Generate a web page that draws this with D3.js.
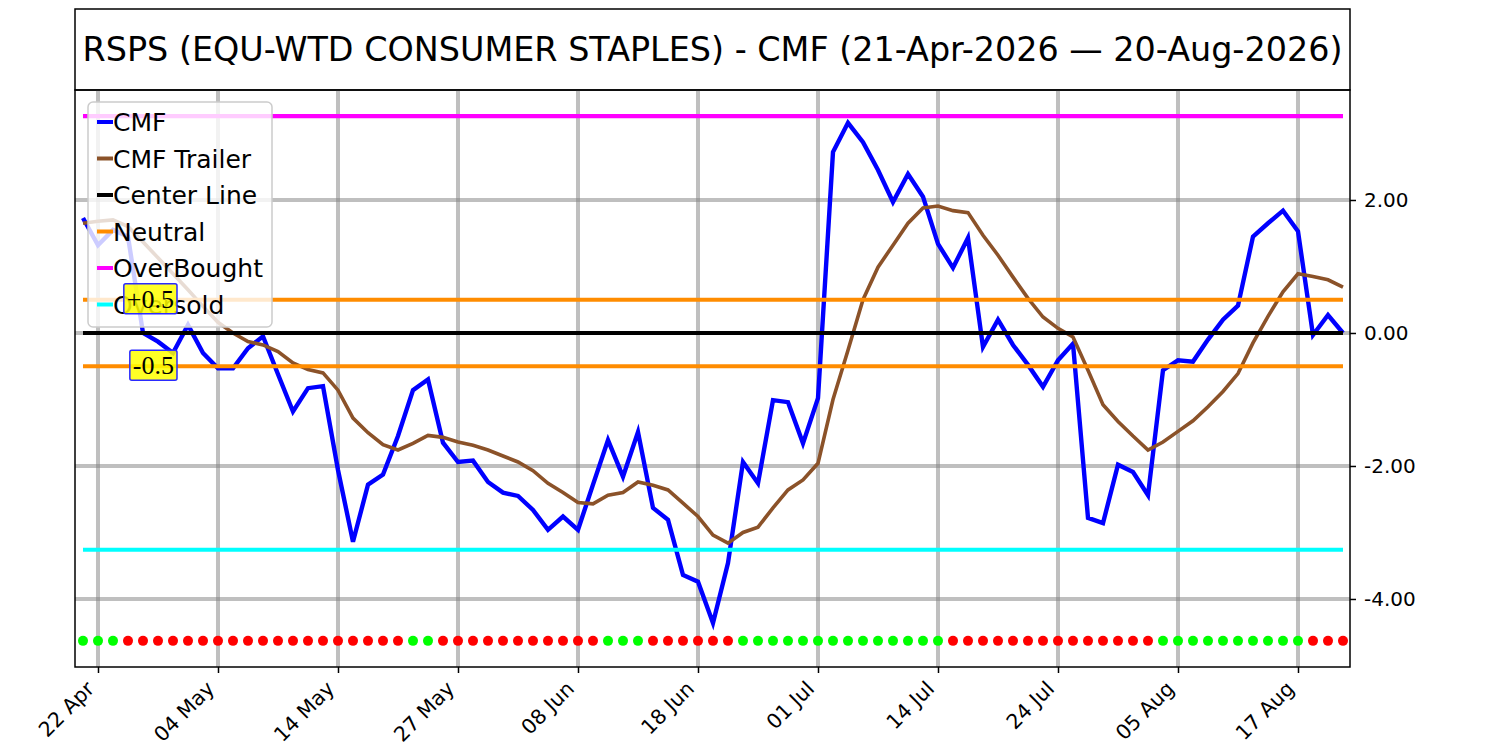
<!DOCTYPE html>
<html>
<head>
<meta charset="utf-8">
<script src="https://cdn.jsdelivr.net/npm/d3@7"></script>
<style>
  body { margin: 0; background: #fff; }
  svg { display: block; font-family: "DejaVu Sans", sans-serif; }
</style>
</head>
<body>
<div id="chart"></div>
<script>
// CMF chart: RSPS, one point per trading day (index based x axis)
const title = "RSPS (EQU-WTD CONSUMER STAPLES) - CMF (21-Apr-2026 \u2014 20-Aug-2026)";

const cmf = [
  1.73, 1.32, 1.55, 1.45, 0.0, -0.13, -0.3, 0.12, -0.3, -0.53,
  -0.53, -0.23, -0.05, -0.62, -1.18, -0.83, -0.8, -2.06, -3.14, -2.28,
  -2.13, -1.55, -0.86, -0.7, -1.65, -1.94, -1.92, -2.24, -2.4, -2.45,
  -2.66, -2.96, -2.76, -2.96, -2.28, -1.61, -2.16, -1.49, -2.63, -2.81,
  -3.64, -3.74, -4.36, -3.46, -1.94, -2.26, -1.01, -1.04, -1.66, -0.98,
  2.72, 3.16, 2.87, 2.45, 1.97, 2.39, 2.05, 1.34, 0.98, 1.43,
  -0.21, 0.2, -0.18, -0.48, -0.81, -0.41, -0.16, -2.78, -2.86, -1.98,
  -2.09, -2.44, -0.56, -0.41, -0.43, -0.1, 0.2, 0.41, 1.45, 1.65,
  1.84, 1.53, -0.03, 0.27, 0.0
];

const trailer = [
  1.65, 1.68, 1.7, 1.6, 1.37, 1.13, 0.89, 0.65, 0.4, 0.16,
  0.0, -0.13, -0.18, -0.28, -0.45, -0.55, -0.6, -0.86, -1.28, -1.5,
  -1.68, -1.76, -1.66, -1.54, -1.57, -1.64, -1.69, -1.76, -1.85, -1.94,
  -2.07, -2.26, -2.4, -2.55, -2.57, -2.44, -2.4, -2.24, -2.29, -2.36,
  -2.56, -2.76, -3.04, -3.16, -3.0, -2.92, -2.63, -2.36, -2.21, -1.96,
  -1.0, -0.26, 0.5, 0.99, 1.32, 1.65, 1.88, 1.91, 1.84, 1.81,
  1.47, 1.17, 0.84, 0.52, 0.24, 0.07, -0.06, -0.56, -1.08, -1.33,
  -1.55, -1.76, -1.64, -1.48, -1.32, -1.11, -0.88, -0.61, -0.15, 0.25,
  0.62, 0.89, 0.85, 0.8, 0.69
];

// signal dots along the bottom: G = green, R = red
const signals = ("GGG" + "RRRRRRRRRRRRRRRRRRR" + "GG" + "RRRRRRRRRRR" + "GGG" +
  "RRRRRR" + "GGGGGGGGGGGGGG" + "RRRRRRRRRRRRRR" + "GGGGGGGGGG" + "RRR").split("");

const tickIndex = [1, 9, 17, 25, 33, 41, 49, 57, 65, 73, 81];
const tickLabels = ["22 Apr", "04 May", "14 May", "27 May", "08 Jun", "18 Jun",
  "01 Jul", "14 Jul", "24 Jul", "05 Aug", "17 Aug"];

const yTicks = [-4, -2, 0, 2];

const refLines = [
  { name: "Center Line", value: 0, color: "#000000" },
  { name: "Neutral", value: 0.5, color: "#ff8c00" },
  { name: "Neutral", value: -0.5, color: "#ff8c00" },
  { name: "OverBought", value: 3.26, color: "#ff00ff" },
  { name: "Oversold", value: -3.26, color: "#00ffff" }
];

const legendItems = [
  { name: "CMF", color: "#0000ff" },
  { name: "CMF Trailer", color: "#8b5229" },
  { name: "Center Line", color: "#000000" },
  { name: "Neutral", color: "#ff8c00" },
  { name: "OverBought", color: "#ff00ff" },
  { name: "Oversold", color: "#00ffff" }
];

const W = 1500, H = 750;
const plot = { left: 75, right: 1350, top: 90, bottom: 667 };

const svg = d3.select("#chart").append("svg")
    .attr("width", W)
    .attr("height", H);

const x = d3.scaleLinear()
  .domain([-0.533, cmf.length - 1 + 0.467])
  .range([plot.left, plot.right]);

const y = d3.scaleLinear()
  .domain([-5.023, 3.654])
  .range([plot.bottom, plot.top]);

// title box
svg.append("rect")
    .attr("x", plot.left).attr("y", 9)
    .attr("width", plot.right - plot.left).attr("height", plot.top - 9)
    .attr("fill", "none").attr("stroke", "#000").attr("stroke-width", 1.5);

svg.append("text")
    .attr("x", (plot.left + plot.right) / 2)
    .attr("y", 61)
    .attr("text-anchor", "middle")
    .attr("font-size", 33.4)
    .text(title);

// grid
const grid = svg.append("g").attr("stroke", "#808080").attr("stroke-opacity", 0.5).attr("stroke-width", 4);
grid.selectAll("line.v").data(tickIndex).join("line")
    .attr("class", "v")
    .attr("x1", d => x(d)).attr("x2", d => x(d))
    .attr("y1", plot.top).attr("y2", plot.bottom);
grid.selectAll("line.h").data(yTicks).join("line")
    .attr("class", "h")
    .attr("x1", plot.left).attr("x2", plot.right)
    .attr("y1", d => y(d)).attr("y2", d => y(d));

// series
const line = d3.line().x((d, i) => x(i)).y(d => y(d));

svg.append("path")
    .datum(cmf)
    .attr("fill", "none")
    .attr("stroke", "#0000ff")
    .attr("stroke-width", 4.4)
    .attr("d", line);

svg.append("path")
    .datum(trailer)
    .attr("fill", "none")
    .attr("stroke", "#8b5229")
    .attr("stroke-width", 3.6)
    .attr("d", line);

// reference lines
svg.append("g").selectAll("line").data(refLines).join("line")
    .attr("x1", x(0)).attr("x2", x(cmf.length - 1))
    .attr("y1", d => y(d.value)).attr("y2", d => y(d.value))
    .attr("stroke", d => d.color)
    .attr("stroke-width", 4.2);

// signal dots
svg.append("g").selectAll("circle").data(signals).join("circle")
    .attr("cx", (d, i) => x(i))
    .attr("cy", y(-4.63))
    .attr("r", 5)
    .attr("fill", d => d === "G" ? "#00ff00" : "#ff0000");

// axes frame
svg.append("rect")
    .attr("x", plot.left).attr("y", plot.top)
    .attr("width", plot.right - plot.left).attr("height", plot.bottom - plot.top)
    .attr("fill", "none").attr("stroke", "#000").attr("stroke-width", 1.5);

// x axis
const xAxis = svg.append("g")
    .attr("transform", `translate(0,${plot.bottom})`)
    .call(d3.axisBottom(x).tickValues(tickIndex).tickSize(6).tickSizeOuter(0)
      .tickFormat((d, i) => tickLabels[i]));
xAxis.select(".domain").remove();
xAxis.selectAll(".tick line").attr("stroke", "#000").attr("stroke-width", 1.5);
xAxis.selectAll(".tick text")
    .attr("font-size", 20.5)
    .attr("font-family", "DejaVu Sans")
    .attr("fill", "#000")
    .attr("text-anchor", "end")
    .attr("dy", null)
    .attr("y", 0)
    .attr("transform", "translate(-3,23) rotate(-45)");

// y axis on the right
const yAxis = svg.append("g")
    .attr("transform", `translate(${plot.right},0)`)
    .call(d3.axisRight(y).tickValues(yTicks).tickSize(6).tickSizeOuter(0)
      .tickFormat(d3.format(".2f")));
yAxis.select(".domain").remove();
yAxis.selectAll(".tick line").attr("stroke", "#000").attr("stroke-width", 1.5);
yAxis.selectAll(".tick text")
    .attr("font-size", 20)
    .attr("font-family", "DejaVu Sans")
    .attr("fill", "#000")
    .attr("x", 14)
    .text(d => d3.format(".2f")(d).replace("\u2212", "-"));

// legend
const lg = svg.append("g").attr("transform", "translate(88,102)");
lg.append("rect")
    .attr("width", 184).attr("height", 225).attr("rx", 5)
    .attr("fill", "#fff").attr("fill-opacity", 0.8)
    .attr("stroke", "#cccccc").attr("stroke-width", 1.5);
const rows = lg.selectAll("g.row").data(legendItems).join("g")
    .attr("class", "row")
    .attr("transform", (d, i) => `translate(0,${20 + i * 36.5})`);
rows.append("line")
    .attr("x1", 9).attr("x2", 25).attr("y1", 0).attr("y2", 0)
    .attr("stroke", d => d.color).attr("stroke-width", 4);
rows.append("text")
    .attr("x", 25).attr("y", 9)
    .attr("font-size", 25)
    .text(d => d.name);

// annotations on the neutral lines
const notes = [{ label: "+0.5", value: 0.5 }, { label: "-0.5", value: -0.5 }];
notes.forEach(n => {
  const g = svg.append("g");
  const t = g.append("text")
      .attr("x", x(6) + 1)
      .attr("y", y(n.value) + 8)
      .attr("text-anchor", "end")
      .attr("font-family", "Liberation Serif, serif")
      .attr("font-size", 26)
      .text(n.label);
  const b = t.node().getBBox();
  g.insert("rect", "text")
      .attr("x", b.x - 3).attr("y", b.y - 1)
      .attr("width", b.width + 6).attr("height", b.height + 1)
      .attr("rx", 2)
      .attr("fill", "#ffff00").attr("fill-opacity", 0.85)
      .attr("stroke", "#2a2aff").attr("stroke-width", 1.5);
});
</script>
</body>
</html>
